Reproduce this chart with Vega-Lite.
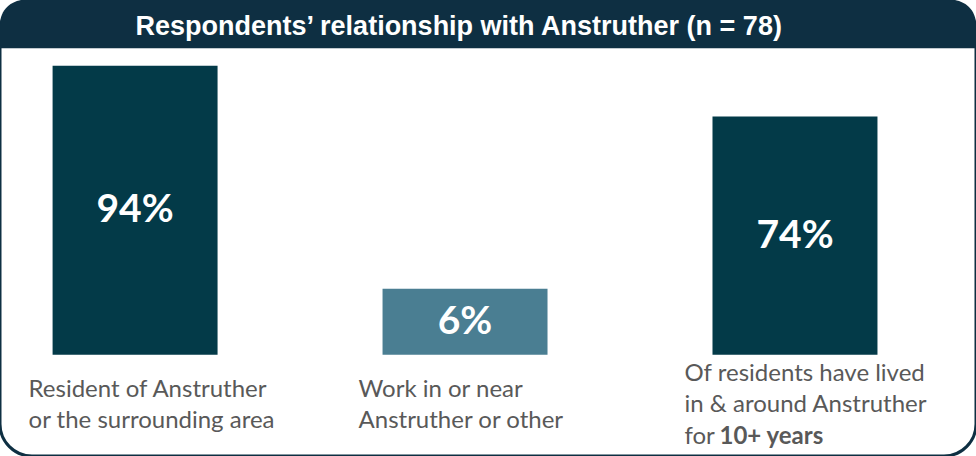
{
  "$schema": "https://vega.github.io/schema/vega-lite/v6.json",
  "width": 976,
  "height": 456,
  "autosize": {"type": "fit", "contains": "padding"},
  "padding": 0,
  "background": "white",
  "config": {"view": {"stroke": "#0e2f42", "strokeWidth": 3, "cornerRadius": 32}},
  "data": {"values": [
    {"category": "Resident", "value": 94, "pct": "94%", "label": ["Resident of Anstruther", "or the surrounding area"], "bold": ""},
    {"category": "Work", "value": 6, "pct": "6%", "label": ["Work in or near", "Anstruther or other"], "bold": ""},
    {"category": "Long-term", "value": 74, "pct": "74%", "label": ["Of residents have lived", "in & around Anstruther", "for"], "bold": "10+ years"}
  ]},
  "layer": [
    {
      "data": {"values": [{}]},
      "mark": {"type": "rect", "color": "#0e2f42", "cornerRadiusTopLeft": 32, "cornerRadiusTopRight": 32},
      "encoding": {
        "x": {"value": 0},
        "x2": {"value": "width"},
        "y": {"datum": 120, "type": "quantitative", "scale": {"domain": [-60, 120], "nice": false, "zero": false}, "axis": null},
        "y2": {"datum": 101}
      }
    },
    {
      "data": {"values": [{"title": "Respondents’ relationship with Anstruther (n = 78)"}]},
      "mark": {"type": "text", "font": "Liberation Sans", "fontWeight": "bold", "fontSize": 27, "color": "white", "align": "center", "baseline": "middle"},
      "encoding": {
        "x": {"value": {"expr": "width * 0.47"}},
        "y": {"datum": 109.5, "type": "quantitative"},
        "text": {"field": "title"}
      }
    },
    {
      "mark": {"type": "bar"},
      "encoding": {
        "x": {"field": "category", "type": "nominal", "sort": null, "axis": null, "scale": {"paddingInner": 0.5, "paddingOuter": 0.229, "align": 0.348}},
        "y": {"field": "value", "type": "quantitative"},
        "y2": {"datum": -20},
        "color": {"condition": {"test": "datum.category === 'Work'", "value": "#4a7e92"}, "value": "#033a48"}
      }
    },
    {
      "transform": [{"calculate": "(datum.value - 20) / 2", "as": "mid"}],
      "mark": {"type": "text", "font": "Lato", "fontWeight": "bold", "fontSize": 39, "color": "white", "align": "center", "baseline": "middle"},
      "encoding": {
        "x": {"field": "category", "type": "nominal", "sort": null},
        "y": {"field": "mid", "type": "quantitative"},
        "text": {"field": "pct"}
      }
    },
    {
      "transform": [{"filter": "length(datum.label) == 2"}],
      "mark": {"type": "text", "font": "Lato", "fontSize": 24, "color": "#595959", "align": "left", "baseline": "middle", "dx": -24, "lineHeight": 31.5},
      "encoding": {
        "x": {"field": "category", "type": "nominal", "sort": null, "bandPosition": 0},
        "y": {"datum": -33.9, "type": "quantitative"},
        "text": {"field": "label"}
      }
    },
    {
      "transform": [{"filter": "length(datum.label) == 3"}],
      "mark": {"type": "text", "font": "Lato", "fontSize": 24, "color": "#595959", "align": "left", "baseline": "middle", "dx": -28, "lineHeight": 31.5},
      "encoding": {
        "x": {"field": "category", "type": "nominal", "sort": null, "bandPosition": 0},
        "y": {"datum": -27.6, "type": "quantitative"},
        "text": {"field": "label"}
      }
    },
    {
      "transform": [{"filter": "datum.bold !== ''"}],
      "mark": {"type": "text", "font": "Lato", "fontWeight": "bold", "fontSize": 24, "color": "#595959", "align": "left", "baseline": "middle", "dx": 7, "dy": 63},
      "encoding": {
        "x": {"field": "category", "type": "nominal", "sort": null, "bandPosition": 0},
        "y": {"datum": -27.6, "type": "quantitative"},
        "text": {"field": "bold"}
      }
    }
  ]
}
